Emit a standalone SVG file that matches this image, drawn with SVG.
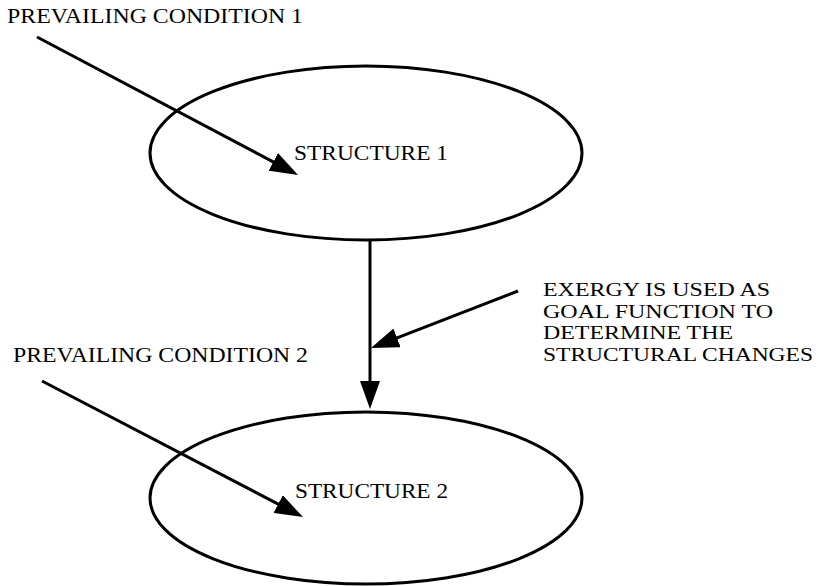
<svg xmlns="http://www.w3.org/2000/svg" width="818" height="586" viewBox="0 0 818 586">
<style>
.t{font-family:"Liberation Serif","Times New Roman",serif;font-size:21px;fill:#000}
.e{font-family:"Liberation Serif","Times New Roman",serif;font-size:19.5px;fill:#000}
.n{fill:none;stroke:#000;stroke-width:3}
.c{stroke:#000;stroke-width:3;fill:none}
</style>
<defs>
<marker id="ah" markerUnits="userSpaceOnUse" markerWidth="28" markerHeight="20" refX="18" refY="10" orient="auto">
<path d="M0,0 L28,10 L0,20 z" fill="#000"/>
</marker>
</defs>
<rect width="818" height="586" fill="#fff"/>
<g id="structure1">
<ellipse class="n" cx="366" cy="153" rx="216" ry="87"/>
<text class="t" x="294" y="160" textLength="154" lengthAdjust="spacingAndGlyphs">STRUCTURE 1</text>
</g>
<g id="structure2">
<ellipse class="n" cx="366" cy="498" rx="216" ry="86"/>
<text class="t" x="295" y="498" textLength="153" lengthAdjust="spacingAndGlyphs">STRUCTURE 2</text>
</g>
<g id="condition1">
<text class="t" x="7" y="23" textLength="296" lengthAdjust="spacingAndGlyphs">PREVAILING CONDITION 1</text>
</g>
<g id="condition2">
<text class="t" x="13" y="362" textLength="295" lengthAdjust="spacingAndGlyphs">PREVAILING CONDITION 2</text>
</g>
<g id="exergy">
<text class="e" x="543" y="296" textLength="227" lengthAdjust="spacingAndGlyphs">EXERGY IS USED AS</text>
<text class="e" x="543" y="317.5" textLength="230" lengthAdjust="spacingAndGlyphs">GOAL FUNCTION TO</text>
<text class="e" x="543" y="339" textLength="190" lengthAdjust="spacingAndGlyphs">DETERMINE THE</text>
<text class="e" x="543" y="360.5" textLength="270" lengthAdjust="spacingAndGlyphs">STRUCTURAL CHANGES</text>
</g>
<g id="connectors">
<line class="c" x1="37" y1="37" x2="289.2" y2="170.3" marker-end="url(#ah)"/>
<line class="c" x1="42" y1="381" x2="294.1" y2="512.4" marker-end="url(#ah)"/>
<line class="c" x1="518" y1="291" x2="380.3" y2="344.4" marker-end="url(#ah)"/>
<line class="c" x1="370" y1="240" x2="370" y2="399" marker-end="url(#ah)"/>
</g>
</svg>
